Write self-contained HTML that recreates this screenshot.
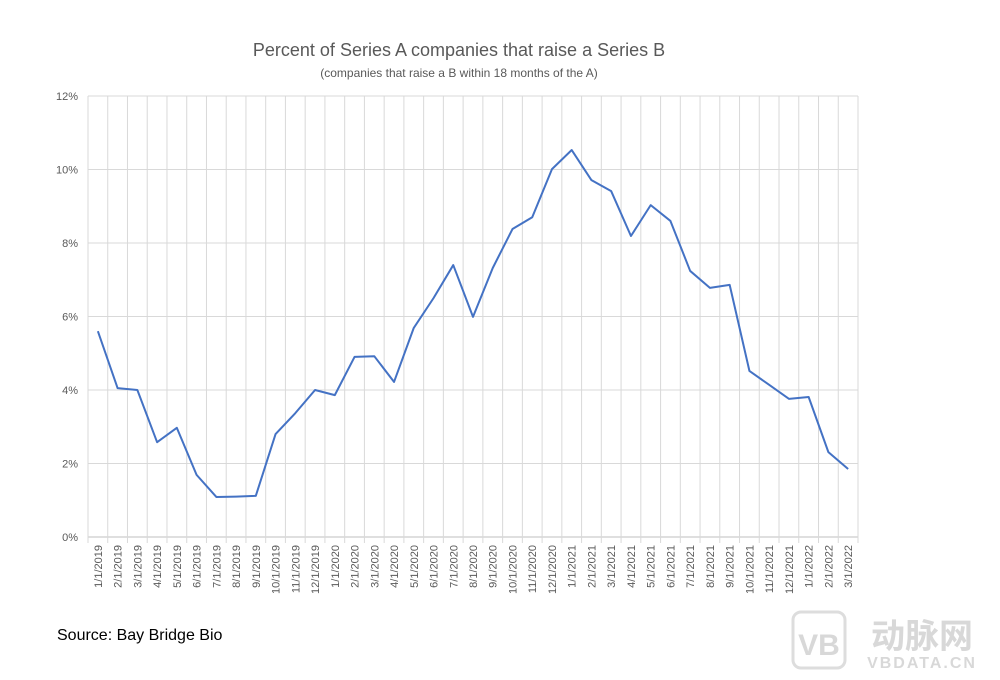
<!DOCTYPE html>
<html><head><meta charset="utf-8"><style>
body{margin:0;background:#fff;}
svg{display:block;font-family:"Liberation Sans","Noto Sans CJK SC",sans-serif;}
</style></head><body>
<svg width="1000" height="680" viewBox="0 0 1000 680">
<text x="459" y="56" text-anchor="middle" font-size="18" fill="#595959">Percent of Series A companies that raise a Series B</text>
<text x="459" y="77" text-anchor="middle" font-size="12" fill="#595959">(companies that raise a B within 18 months of the A)</text>
<g id="grid"></g><g id="yt"></g><g id="xt"></g>
<polyline id="line" fill="none" stroke="#4472C4" stroke-width="2" stroke-linejoin="round"/>
<text x="57" y="640" font-size="16" fill="#000">Source: Bay Bridge Bio</text>
<g fill="#d8d8d8">
<rect x="793" y="612" width="52" height="56" rx="8" fill="none" stroke="#ddd" stroke-width="3"/>
<text x="819" y="655" text-anchor="middle" font-size="30" font-weight="bold">VB</text>
<text x="922" y="648" text-anchor="middle" font-size="34" font-weight="bold">动脉网</text>
<text x="922" y="668" text-anchor="middle" font-size="16" font-weight="bold" letter-spacing="2">VBDATA.CN</text>
</g>
</svg>
<script>
const categories=["1/1/2019","2/1/2019","3/1/2019","4/1/2019","5/1/2019","6/1/2019","7/1/2019","8/1/2019","9/1/2019","10/1/2019","11/1/2019","12/1/2019","1/1/2020","2/1/2020","3/1/2020","4/1/2020","5/1/2020","6/1/2020","7/1/2020","8/1/2020","9/1/2020","10/1/2020","11/1/2020","12/1/2020","1/1/2021","2/1/2021","3/1/2021","4/1/2021","5/1/2021","6/1/2021","7/1/2021","8/1/2021","9/1/2021","10/1/2021","11/1/2021","12/1/2021","1/1/2022","2/1/2022","3/1/2022"];
const values=[5.6,4.05,4.0,2.58,2.97,1.69,1.09,1.1,1.12,2.8,3.37,4.0,3.86,4.9,4.92,4.22,5.69,6.5,7.4,5.99,7.32,8.38,8.7,10.01,10.53,9.71,9.41,8.19,9.03,8.6,7.24,6.78,6.86,4.52,4.14,3.76,3.81,2.31,1.85];
const yTicks=[0,2,4,6,8,10,12];
const X0=88,X1=858,Y0=537,Y1=96,NS="http://www.w3.org/2000/svg";
const bw=(X1-X0)/categories.length;
const xs=i=>X0+bw*(i+0.5);
const ys=v=>Y0-(v/12)*(Y0-Y1);
function mk(t,a,p){const e=document.createElementNS(NS,t);for(const k in a)e.setAttribute(k,a[k]);p.appendChild(e);return e;}
const g=document.getElementById('grid'),yt=document.getElementById('yt'),xt=document.getElementById('xt');
yTicks.forEach(v=>{
 const l=mk('line',{x1:X0,x2:X1,y1:ys(v),y2:ys(v),stroke:v===0?'#bfbfbf':'#d9d9d9','stroke-width':1},g);
 
 
 const t=mk('text',{x:78,y:ys(v)+4,'text-anchor':'end','font-size':11,fill:'#595959'},yt);
 t.textContent=v+'%';
 
 
});
for(let i=0;i<=categories.length;i++){
 const x=X0+bw*i;
 const l=mk('line',{x1:x,x2:x,y1:Y1,y2:Y0+6,stroke:'#d9d9d9','stroke-width':1},g);
 
 
}
categories.forEach((c,i)=>{
 const x=xs(i)+4;
 const t=mk('text',{x:x,y:545,'text-anchor':'end','font-size':11,fill:'#595959',transform:`rotate(-90 ${x} 545)`},xt);
 t.textContent=c;
 
 
});
document.getElementById('line').setAttribute('points',values.map((v,i)=>xs(i)+','+ys(v)).join(' '));
</script>
</body></html>
